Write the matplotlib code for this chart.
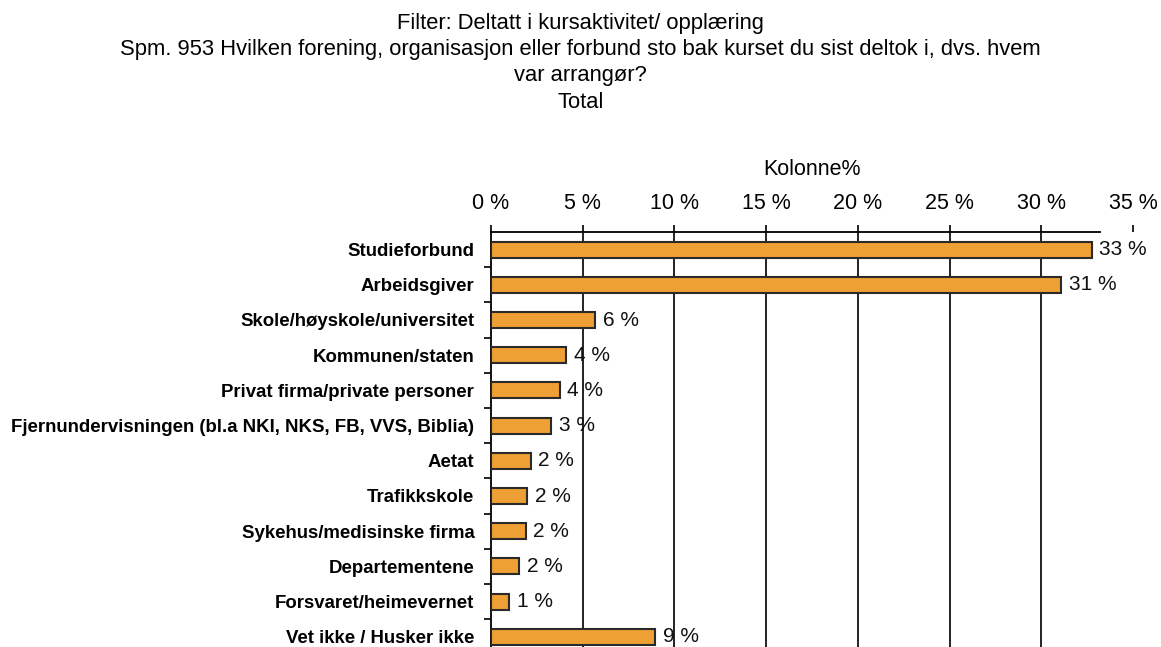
import matplotlib
matplotlib.use("Agg")
import matplotlib.pyplot as plt
from matplotlib.ticker import FixedLocator

plt.rcParams['font.family'] = ['Liberation Sans', 'DejaVu Sans']

kategorier = [
    "Studieforbund",
    "Arbeidsgiver",
    "Skole/høyskole/universitet",
    "Kommunen/staten",
    "Privat firma/private personer",
    "Fjernundervisningen (bl.a NKI, NKS, FB, VVS, Biblia)",
    "Aetat",
    "Trafikkskole",
    "Sykehus/medisinske firma",
    "Departementene",
    "Forsvaret/heimevernet",
    "Vet ikke / Husker ikke",
]
prosent = [32.75, 31.1, 5.68, 4.1, 3.77, 3.28, 2.18, 1.98, 1.89, 1.55, 1.0, 8.95]
x_ticks = [0, 5, 10, 15, 20, 25, 30, 35]

tittel = [
    "Filter: Deltatt i kursaktivitet/ opplæring",
    "Spm. 953 Hvilken forening, organisasjon eller forbund sto bak kurset du sist deltok i, dvs. hvem",
    "var arrangør?",
    "Total",
]

fig = plt.figure(figsize=(11.61, 6.47), dpi=100)
ax = fig.add_axes([491 / 1161, 1 - 654.4 / 647, 642 / 1161, 422.4 / 647])

y = list(range(len(kategorier)))
ax.barh(y, prosent, height=0.45, color='#EFA034', edgecolor='#2a2a2a',
        linewidth=1.5, zorder=3)

for yi, v in zip(y, prosent):
    ax.text(v + 0.4, yi, f"{round(v)} %", va='center', ha='left',
            fontsize=15, color='#111111')

ax.set_xlim(0, 35)
ax.set_ylim(len(kategorier) - 0.5, -0.5)

# gridlines
for g in x_ticks[1:-1]:
    ax.axvline(g, color='#111111', lw=1.3, zorder=1)

ax.xaxis.tick_top()
ax.xaxis.set_label_position('top')
ax.set_xticks(x_ticks)
ax.set_xticklabels([f"{t} %" for t in x_ticks])
ax.tick_params(axis='x', which='major', length=5, width=1.3, pad=8,
               labelsize=15.5, color='#111111')
ax.set_xlabel("Kolonne%", fontsize=15.5, labelpad=13)

ax.set_yticks(y)
ax.set_yticklabels(kategorier, fontweight='bold', fontsize=13.4)
ax.tick_params(axis='y', which='major', length=0, pad=12)
ax.yaxis.set_minor_locator(FixedLocator([i + 0.5 for i in y[:-1]]))
ax.tick_params(axis='y', which='minor', length=5, width=1.3, color='#111111')

for s in ['right', 'bottom']:
    ax.spines[s].set_visible(False)
ax.spines['top'].set_bounds(0, 33.2)
ax.spines['top'].set_linewidth(1.3)
ax.spines['left'].set_linewidth(1.3)

ys = [1 - 24 / 647, 1 - 50 / 647, 1 - 76 / 647, 1 - 102 / 647]
for t, yy in zip(tittel, ys):
    fig.text(0.5, yy, t, ha='center', va='center', fontsize=15.8)

fig.savefig("out.png", dpi=100)
